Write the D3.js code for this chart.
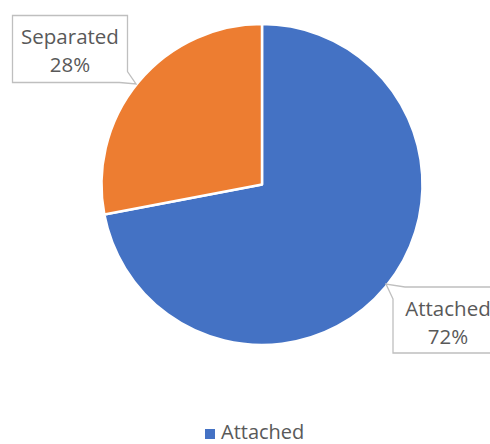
<!DOCTYPE html>
<html><head><meta charset="utf-8">
<script src="https://cdn.jsdelivr.net/npm/d3@7/dist/d3.min.js"></script>
<style>html,body{margin:0;padding:0;background:#fff;overflow:hidden}</style>
</head><body>
<svg id="c" width="490" height="444"></svg>
<script>
const categories = ["Attached", "Separated"];
const values = [72, 28];
const colors = ["#4472C4", "#ED7D31"];
const legendItems = ["Attached"];

const svg = d3.select("#c");
const cx = 262, cy = 184.5, r = 160.5;
const font = "'Open Sans', 'Liberation Sans', sans-serif";
const textColor = "#595959";

const pie = d3.pie().sort(null).value(d => d.v);
const arcs = pie(categories.map((c, i) => ({c, v: values[i], col: colors[i]})));
const arc = d3.arc().innerRadius(0).outerRadius(r);

const g = svg.append("g").attr("transform", `translate(${cx},${cy})`);
g.selectAll("path").data(arcs).enter().append("path")
  .attr("d", arc).attr("fill", d => d.data.col)
  .attr("stroke", "#fff").attr("stroke-width", 2.5).attr("stroke-linejoin", "round");

// callout labels
const labelBoxes = [
  {name: "Attached", x: 393, y: 287, w: 110, h: 66, tip: [386, 284], side: "tl"},
  {name: "Separated", x: 12.5, y: 15.5, w: 115, h: 67, tip: [136, 84], side: "br"}
];
labelBoxes.forEach(b => {
  const d = arcs.find(a => a.data.c === b.name);
  const pct = Math.round(d.data.v / d3.sum(values) * 100) + "%";
  let p;
  const {x, y, w, h} = b;
  if (b.side === "tl") {
    p = [[x, y + 12], b.tip, [x + 12, y], [x + w, y], [x + w, y + h], [x, y + h]];
  } else {
    p = [[x, y], [x + w, y], [x + w, y + h - 11], b.tip, [x + w - 8, y + h], [x, y + h]];
  }
  svg.append("path").attr("d", "M" + p.map(q => q.join(",")).join("L") + "Z")
    .attr("fill", "#fff").attr("stroke", "#BFBFBF").attr("stroke-width", 1.3);
  const t = svg.append("text").attr("font-family", font).attr("font-size", 20.5)
    .attr("fill", textColor).attr("text-anchor", "middle");
  t.append("tspan").attr("x", x + w / 2).attr("y", y + 28.5).text(b.name);
  t.append("tspan").attr("x", x + w / 2).attr("y", y + 56.5).text(pct);
});

// legend
const lg = svg.append("g");
legendItems.forEach((name, i) => {
  const col = colors[categories.indexOf(name)];
  lg.append("rect").attr("x", 205).attr("y", 429).attr("width", 10).attr("height", 10).attr("fill", col);
  lg.append("text").attr("x", 221).attr("y", 439).attr("font-family", font).attr("font-size", 20)
    .attr("fill", textColor).text(name);
});
</script>
</body></html>
